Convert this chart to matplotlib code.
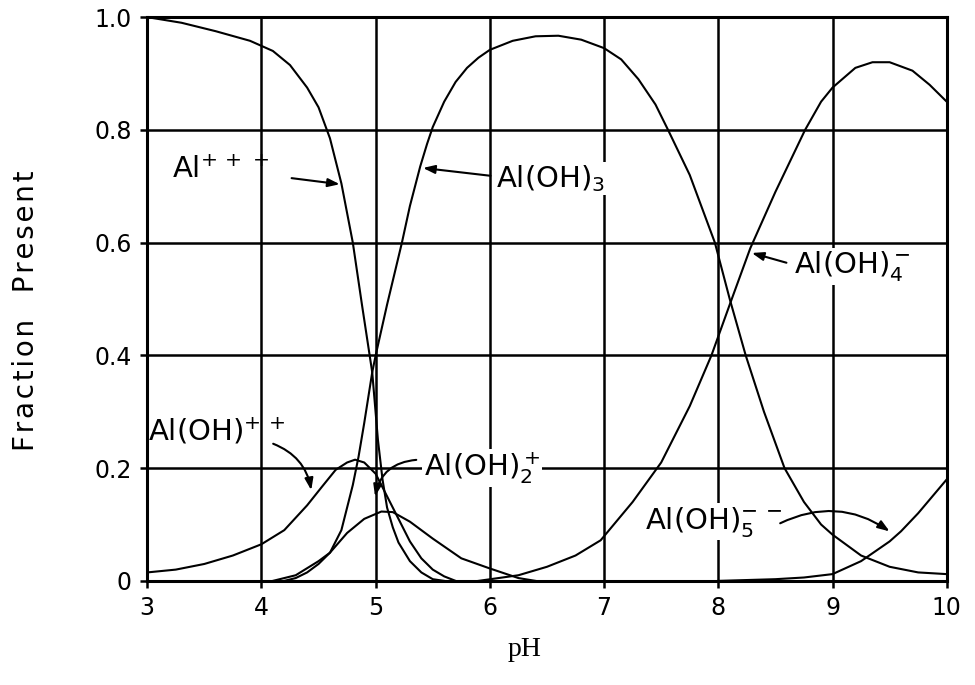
import numpy as np
import matplotlib
matplotlib.use('Agg')
import matplotlib.pyplot as plt

# values (pH, fraction present)
ph_al3 = [3.0, 3.3, 3.6, 3.9, 4.1, 4.25, 4.4, 4.5, 4.6, 4.7, 4.8, 4.88, 4.97,
          5.02, 5.06, 5.1, 5.15, 5.2, 5.3, 5.4, 5.5, 5.6]
fr_al3 = [1.0, 0.99, 0.975, 0.958, 0.94, 0.915, 0.875, 0.84, 0.785, 0.705, 0.60, 0.49, 0.37,
          0.25, 0.18, 0.13, 0.095, 0.068, 0.035, 0.015, 0.003, 0.0]

ph_aloh = [3.0, 3.25, 3.5, 3.75, 4.0, 4.2, 4.4, 4.53, 4.65, 4.75, 4.82, 4.9, 5.0,
           5.1, 5.2, 5.3, 5.4, 5.5, 5.6, 5.7]
fr_aloh = [0.015, 0.02, 0.03, 0.045, 0.065, 0.09, 0.134, 0.167, 0.197, 0.21, 0.215, 0.21, 0.19,
           0.15, 0.11, 0.07, 0.04, 0.02, 0.008, 0.0]

ph_aloh2 = [4.1, 4.3, 4.5, 4.6, 4.75, 4.9, 5.05, 5.15, 5.3, 5.5, 5.75, 6.0, 6.25, 6.4]
fr_aloh2 = [0.0, 0.01, 0.035, 0.05, 0.085, 0.11, 0.123, 0.122, 0.105, 0.075, 0.04, 0.022, 0.005, 0.0]

ph_aloh3 = [4.2, 4.3, 4.4, 4.5, 4.6, 4.7, 4.8, 4.85, 4.9, 4.97, 5.0, 5.1, 5.23, 5.3, 5.39,
            5.45, 5.5, 5.6, 5.7, 5.8, 5.9, 6.0, 6.2, 6.4, 6.6, 6.8, 7.0, 7.15, 7.3, 7.45,
            7.56, 7.75, 7.97, 8.1, 8.24, 8.4, 8.58, 8.75, 8.9, 9.0, 9.25, 9.5, 9.75, 10.0]
fr_aloh3 = [0.0, 0.005, 0.015, 0.03, 0.05, 0.09, 0.17, 0.22, 0.28, 0.37, 0.40, 0.49, 0.60, 0.665, 0.735,
            0.775, 0.805, 0.85, 0.885, 0.91, 0.928, 0.942, 0.958, 0.966, 0.967, 0.96, 0.945, 0.925, 0.89, 0.845,
            0.80, 0.72, 0.60, 0.50, 0.40, 0.30, 0.20, 0.14, 0.10, 0.082, 0.045, 0.025, 0.015, 0.012]

ph_aloh4 = [5.9, 6.25, 6.5, 6.75, 6.97, 7.25, 7.5, 7.75, 7.94, 8.1, 8.28, 8.5, 8.76,
            8.9, 9.0, 9.2, 9.35, 9.5, 9.7, 9.85, 10.0]
fr_aloh4 = [0.0, 0.01, 0.025, 0.045, 0.072, 0.14, 0.21, 0.31, 0.40, 0.49, 0.59, 0.69, 0.80,
            0.85, 0.875, 0.91, 0.92, 0.92, 0.905, 0.88, 0.85]

ph_aloh5 = [8.0, 8.5, 8.75, 9.0, 9.25, 9.5, 9.6, 9.75, 10.0]
fr_aloh5 = [0.0, 0.003, 0.006, 0.012, 0.035, 0.07, 0.088, 0.12, 0.18]

x_ticks = [3, 4, 5, 6, 7, 8, 9, 10]
y_ticks = [0, 0.2, 0.4, 0.6, 0.8, 1.0]
y_ticklabels = ['0', '0.2', '0.4', '0.6', '0.8', '1.0']

plt.rcParams['mathtext.fontset'] = 'dejavusans'

fig = plt.figure(figsize=(9.75, 6.85), dpi=100)
ax = fig.add_axes((0.151, 0.152, 0.82, 0.823))

for ph, fr in [(ph_al3, fr_al3), (ph_aloh, fr_aloh), (ph_aloh2, fr_aloh2),
               (ph_aloh3, fr_aloh3), (ph_aloh4, fr_aloh4), (ph_aloh5, fr_aloh5)]:
    ax.plot(ph, fr, color='black', lw=1.5, zorder=3, solid_joinstyle='round')

ax.set_xlim(3, 10)
ax.set_ylim(0, 1.0)
ax.set_xticks(x_ticks)
ax.set_yticks(y_ticks)
ax.set_yticklabels(y_ticklabels)
ax.grid(True, color='black', lw=1.8)
ax.set_axisbelow(True)
for sp in ax.spines.values():
    sp.set_linewidth(2.2)
ax.tick_params(axis='both', labelsize=17, length=5, width=1.8, pad=6)

# hand lettering is widely spaced, hair spaces between letters
hs = '\u200a'
ax.set_ylabel(hs.join('Fraction') + '   ' + hs.join('Present'), fontsize=20)
ax.yaxis.set_label_coords(-0.134, 0.48)
ax.set_xlabel('pH', fontsize=20, family='Liberation Serif')
ax.xaxis.set_label_coords(0.4725, -0.1)

lbl_kw = dict(fontsize=21, va='center', ha='left', zorder=2.5)
white = dict(facecolor='white', edgecolor='none', pad=1)
arr = dict(arrowstyle='-|>,head_length=0.7,head_width=0.25', color='black', lw=1.5)

ax.text(3.22, 0.728, r'Al$^{+\,+\,+}$', **lbl_kw)
ax.annotate('', xy=(4.71, 0.703), xytext=(4.24, 0.715), arrowprops=arr, zorder=4)

ax.text(6.05, 0.714, r'Al(OH)$_3$', bbox=white, **lbl_kw)
ax.annotate('', xy=(5.39, 0.733), xytext=(6.03, 0.718), arrowprops=arr, zorder=4)

ax.text(8.66, 0.558, r'Al(OH)$_4^-$', bbox=white, **lbl_kw)
ax.annotate('', xy=(8.27, 0.583), xytext=(8.62, 0.563), arrowprops=arr, zorder=4)

ax.text(3.01, 0.265, r'Al(OH)$^{+\,+}$', **lbl_kw)
ax.annotate('', xy=(4.44, 0.156), xytext=(4.08, 0.245),
            arrowprops=dict(arr, connectionstyle='arc3,rad=-0.3'), zorder=4)

ax.text(5.42, 0.2, r'Al(OH)$_2^+$', bbox=white, **lbl_kw)
ax.annotate('', xy=(4.99, 0.145), xytext=(5.38, 0.215),
            arrowprops=dict(arr, connectionstyle='arc3,rad=0.4'), zorder=4)

ax.text(7.36, 0.105, r'Al(OH)$_5^{-\,-}$', bbox=white, **lbl_kw)
ax.annotate('', xy=(9.52, 0.085), xytext=(8.52, 0.1),
            arrowprops=dict(arr, connectionstyle='arc3,rad=-0.3'), zorder=4)

fig.savefig('out.png', dpi=100)
